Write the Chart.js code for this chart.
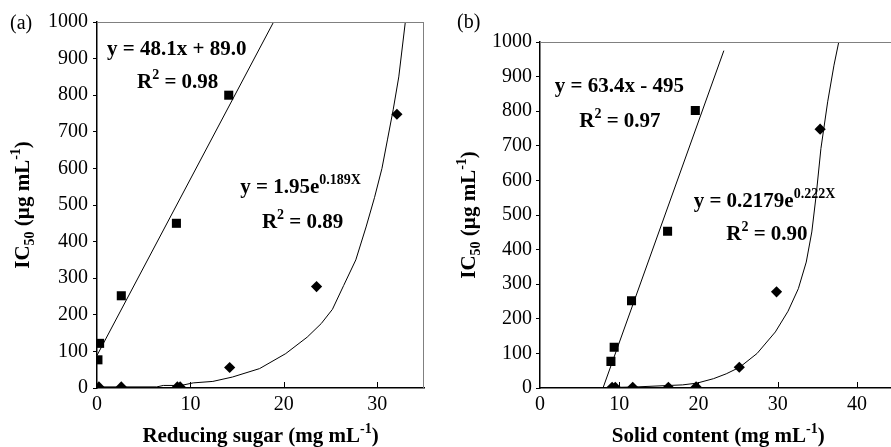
<!DOCTYPE html>
<html>
<head>
<meta charset="utf-8">
<script src="https://cdn.jsdelivr.net/npm/chart.js@4.4.1/dist/chart.umd.min.js"></script>
<style>
html,body{margin:0;padding:0;overflow:hidden;background:#fff;width:891px;height:447px;}
#wa{position:absolute;left:0;top:0;width:445px;height:447px;}
#wb{position:absolute;left:445px;top:0;width:458px;height:447px;}
canvas{display:block;}
</style>
</head>
<body>
<div id="wa"><canvas id="ca" width="445" height="447"></canvas></div>
<div id="wb"><canvas id="cb" width="458" height="447"></canvas></div>
<script>
// ---------- data ----------
const yTicks = [0, 100, 200, 300, 400, 500, 600, 700, 800, 900, 1000];
const xTicksSugar = [0, 10, 20, 30];
const xTicksSolid = [0, 10, 20, 30, 40];

// (a) Reducing sugar
const sugarSquareX = [0.1, 0.28, 2.6, 8.5, 14.1];
const sugarSquareY = [77, 122, 252, 450, 800];
const sugarDiamondX = [0.2, 2.6, 8.6, 8.9, 14.2, 23.5, 32.1];
const sugarDiamondY = [3, 3, 3, 3, 56, 277, 748];
const sugarLineX = [0, 18.9];
const sugarLineY = [89, 1000];
const sugarCurveX = [0, 6.4, 7.1, 9, 10.3, 12.4, 14.5, 17.4, 20.2, 22.5, 24, 25.2, 26.4, 27.7, 28.8, 29.7, 30.5, 31.1, 31.7, 32.3, 33.0];
const sugarCurveY = [3, 3, 7, 7, 14, 18, 30, 53, 94, 139, 176, 215, 280, 350, 440, 520, 600, 680, 760, 850, 1000];

// (b) Solid content
const solidSquareX = [8.95, 9.36, 11.55, 16.1, 19.6];
const solidSquareY = [77, 118, 252, 453, 802];
const solidDiamondX = [9.1, 9.5, 11.7, 16.2, 19.7, 25.15, 29.85, 35.35];
const solidDiamondY = [2, 2, 2, 2, 3, 60, 278, 748];
const solidLineX = [7.95, 23.2];
const solidLineY = [0, 975];
const solidCurveX = [8.0, 12, 16, 18, 19.8, 21.9, 23.5, 25.2, 27.4, 29.7, 31.3, 32.6, 33.6, 34.3, 34.85, 35.45, 36.3, 37.1, 37.7];
const solidCurveY = [1, 3, 7, 9, 14, 27, 41, 60, 100, 162, 222, 287, 364, 451, 557, 692, 827, 933, 1000];

// ---------- helpers ----------
const FAM = '"Liberation Serif", "Times New Roman", serif';
function pts(xs, ys) { return xs.map((x, i) => ({ x: x, y: ys[i] })); }
function font(r) { return (r.bold === false ? '' : 'bold ') + r.size + 'px ' + FAM; }
function runsWidth(ctx, runs) {
  let w = 0;
  runs.forEach(r => { ctx.font = font(r); w += ctx.measureText(r.t).width; });
  return w;
}
function drawRuns(ctx, x, y, runs) {
  let cx = x;
  runs.forEach(r => {
    ctx.font = font(r);
    ctx.fillText(r.t, cx, y + (r.dy || 0));
    cx += ctx.measureText(r.t).width;
  });
}
const B = 21, S = 14, T = 21, TS = 14;
function R2(val) { return [{ t: 'R', size: B }, { t: '2', size: S, dy: -9 }, { t: ' = ' + val, size: B }]; }
function eqExp(base, expo) { return [{ t: base, size: B }, { t: expo, size: S, dy: -9 }]; }
const icTitle = [{ t: 'IC', size: T }, { t: '50', size: TS, dy: 5 }, { t: ' (µg mL', size: T }, { t: '-1', size: TS, dy: -9 }, { t: ')', size: T }];

const decor = {
  id: 'decor',
  afterDraw(chart, args, o) {
    const ctx = chart.ctx, a = chart.chartArea, xs = chart.scales.x, ys = chart.scales.y;
    ctx.save();
    // top (and right) border
    ctx.strokeStyle = '#808080';
    ctx.lineWidth = 1;
    ctx.beginPath();
    ctx.moveTo(a.left, a.top + 0.5); ctx.lineTo(a.right, a.top + 0.5);
    if (o.rightBorder) { ctx.moveTo(a.right - 0.5, a.top); ctx.lineTo(a.right - 0.5, a.bottom); }
    ctx.stroke();
    // x tick marks (inside)
    ctx.strokeStyle = '#000';
    ctx.beginPath();
    o.xTicks.forEach(v => {
      if (v === 0) return;
      const px = Math.round(xs.getPixelForValue(v)) + 0.5;
      ctx.moveTo(px, a.bottom); ctx.lineTo(px, a.bottom - 6);
    });
    ctx.stroke();
    ctx.fillStyle = '#000';
    ctx.textBaseline = 'alphabetic';
    ctx.textAlign = 'left';
    // annotations (anchored in data coordinates: left, baseline)
    o.notes.forEach(n => {
      drawRuns(ctx, xs.getPixelForValue(n.x), ys.getPixelForValue(n.y), n.runs);
    });
    // x title
    const cx = (a.left + a.right) / 2;
    const w = runsWidth(ctx, o.xTitle);
    drawRuns(ctx, cx - w / 2, o.xTitleBase, o.xTitle);
    // y title
    const cy = (a.top + a.bottom) / 2;
    const wy = runsWidth(ctx, o.yTitle);
    ctx.save();
    ctx.translate(o.yTitleBase, cy);
    ctx.rotate(-Math.PI / 2);
    drawRuns(ctx, -wy / 2, 0, o.yTitle);
    ctx.restore();
    // panel label
    ctx.font = '20px ' + FAM;
    ctx.fillText(o.panel, o.panelX, o.panelY);
    ctx.restore();
  }
};

function makeChart(id, cfg) {
  return new Chart(document.getElementById(id), {
    type: 'scatter',
    data: {
      datasets: [
        { data: pts(cfg.sqX, cfg.sqY), pointStyle: 'rect', pointRadius: 6.4, pointHoverRadius: 6.4,
          backgroundColor: '#000', borderColor: '#000', borderWidth: 0, showLine: false },
        { data: pts(cfg.dmX, cfg.dmY), pointStyle: 'rectRot', pointRadius: 5.6, pointHoverRadius: 5.6,
          backgroundColor: '#000', borderColor: '#000', borderWidth: 0, showLine: false },
        { data: pts(cfg.lnX, cfg.lnY), showLine: true, pointRadius: 0, borderColor: '#000', borderWidth: 1, tension: 0, fill: false },
        { data: pts(cfg.cvX, cfg.cvY), showLine: true, pointRadius: 0, borderColor: '#000', borderWidth: 1, tension: 0, fill: false }
      ]
    },
    options: {
      responsive: false,
      animation: false,
      events: [],
      devicePixelRatio: 1,
      layout: { padding: cfg.padding },
      plugins: {
        legend: { display: false },
        tooltip: { enabled: false },
        decor: cfg.decor
      },
      scales: {
        x: {
          type: 'linear', min: 0, max: cfg.xMax,
          afterBuildTicks: s => { s.ticks = cfg.xTicks.map(v => ({ value: v })); },
          afterFit: s => { s.height = 59; },
          grid: { display: false, drawTicks: false },
          border: { display: true, color: '#000', width: 1.5 },
          ticks: { color: '#000', padding: 5, font: { family: FAM, size: 20 }, maxRotation: 0, callback: v => String(v) }
        },
        y: {
          type: 'linear', min: 0, max: 1000,
          afterBuildTicks: s => { s.ticks = yTicks.map(v => ({ value: v })); },
          afterFit: s => { s.width = cfg.yWidth; },
          grid: { drawOnChartArea: false, drawTicks: true, tickLength: 4, color: '#000', lineWidth: 1 },
          border: { display: true, color: '#000', width: 1.5 },
          ticks: { color: '#000', padding: cfg.yPad, font: { family: FAM, size: 20 }, callback: v => String(v) }
        }
      }
    },
    plugins: [decor]
  });
}

makeChart('ca', {
  sqX: sugarSquareX, sqY: sugarSquareY, dmX: sugarDiamondX, dmY: sugarDiamondY,
  lnX: sugarLineX, lnY: sugarLineY, cvX: sugarCurveX, cvY: sugarCurveY,
  xMax: 35, xTicks: xTicksSugar, yWidth: 97, yPad: 5,
  padding: { left: 0, top: 22, right: 21, bottom: 0 },
  decor: {
    rightBorder: true, xTicks: xTicksSugar,
    panel: '(a)', panelX: 10, panelY: 29,
    xTitleBase: 442, yTitleBase: 29,
    xTitle: [{ t: 'Reducing sugar (mg mL', size: T }, { t: '-1', size: TS, dy: -9 }, { t: ')', size: T }],
    yTitle: icTitle,
    notes: [
      { x: 1.07, y: 909, runs: [{ t: 'y = 48.1x + 89.0', size: B }] },
      { x: 4.28, y: 819, runs: R2('0.98') },
      { x: 15.33, y: 532, runs: eqExp('y = 1.95e', '0.189X') },
      { x: 17.65, y: 436, runs: R2('0.89') }
    ]
  }
});

makeChart('cb', {
  sqX: solidSquareX, sqY: solidSquareY, dmX: solidDiamondX, dmY: solidDiamondY,
  lnX: solidLineX, lnY: solidLineY, cvX: solidCurveX, cvY: solidCurveY,
  xMax: 45, xTicks: xTicksSolid, yWidth: 95, yPad: 4,
  padding: { left: 0, top: 42, right: 0, bottom: 0 },
  decor: {
    rightBorder: false, xTicks: xTicksSolid,
    panel: '(b)', panelX: 12, panelY: 28,
    xTitleBase: 442, yTitleBase: 30,
    xTitle: [{ t: 'Solid content (mg mL', size: T }, { t: '-1', size: TS, dy: -9 }, { t: ')', size: T }],
    yTitle: icTitle,
    notes: [
      { x: 1.86, y: 855, runs: [{ t: 'y = 63.4x - 495', size: B }] },
      { x: 4.95, y: 754, runs: R2('0.97') },
      { x: 19.39, y: 523, runs: eqExp('y = 0.2179e', '0.222X') },
      { x: 23.5, y: 429, runs: R2('0.90') }
    ]
  }
});
</script>
</body>
</html>
